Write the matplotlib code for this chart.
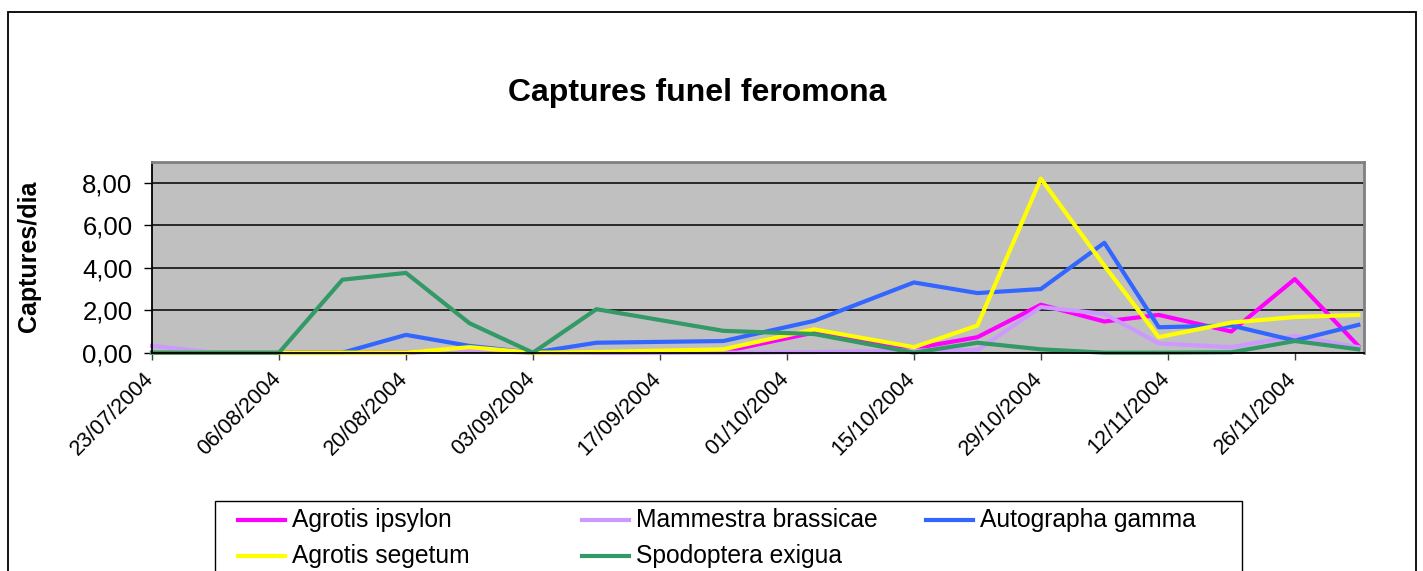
import matplotlib
matplotlib.use("Agg")
import matplotlib.pyplot as plt
import matplotlib.dates as mdates
import matplotlib.transforms as mtransforms
import pandas as pd
from matplotlib.patches import Rectangle
from matplotlib.lines import Line2D
from matplotlib.ticker import FuncFormatter

plt.rcParams["font.family"] = ["Liberation Sans", "DejaVu Sans"]

# ---- data ----
dates = ["23/07/2004", "30/07/2004", "06/08/2004", "13/08/2004", "20/08/2004",
         "27/08/2004", "03/09/2004", "10/09/2004", "24/09/2004", "04/10/2004",
         "15/10/2004", "22/10/2004", "29/10/2004", "05/11/2004", "11/11/2004",
         "19/11/2004", "26/11/2004", "03/12/2004"]
agrotis_ipsylon = [0, 0, 0, 0, 0, 0.20, 0, 0, 0.05, 0.95,
                   0.20, 0.73, 2.26, 1.47, 1.78, 1.00, 3.47, 0.32]
mammestra_brassicae = [0.32, 0, 0, 0, 0, 0.10, 0, 0, 0, 0.03,
                       0.10, 0.12, 2.15, 1.83, 0.44, 0.26, 0.79, 0.26]
autographa_gamma = [0, 0, 0, 0, 0.84, 0.32, 0, 0.47, 0.55, 1.50,
                    3.31, 2.81, 3.00, 5.18, 1.20, 1.28, 0.57, 1.31]
agrotis_segetum = [0, 0, 0, 0, 0, 0.26, 0, 0.03, 0.16, 1.10,
                   0.26, 1.28, 8.20, 4.10, 0.73, 1.42, 1.68, 1.78]
spodoptera_exigua = [0, 0, 0, 3.44, 3.76, 1.39, 0, 2.05, 1.03, 0.88,
                     0, 0.47, 0.16, 0, 0, 0.02, 0.55, 0.16]

labels = ["Agrotis ipsylon", "Mammestra brassicae", "Autographa gamma",
          "Agrotis segetum", "Spodoptera exigua"]
colors = ["#FF00FF", "#CC99FF", "#3366FF", "#FFFF00", "#339966"]
values = [agrotis_ipsylon, mammestra_brassicae, autographa_gamma,
          agrotis_segetum, spodoptera_exigua]

tick_dates = ["23/07/2004", "06/08/2004", "20/08/2004", "03/09/2004", "17/09/2004",
              "01/10/2004", "15/10/2004", "29/10/2004", "12/11/2004", "26/11/2004"]

title = "Captures funel feromona"
ylabel = "Captures/dia"

# ---- figure ----
W, H = 1423, 571
fig = plt.figure(figsize=(W / 100, H / 100), dpi=100)
fig.patch.set_facecolor("white")

# chart border
fig.add_artist(Rectangle((8 / W, -0.1), (1416 - 8) / W, 1 - 12 / H + 0.1,
                         transform=fig.transFigure, fill=False,
                         edgecolor="black", lw=1.3))

left, right, top, bottom = 152, 1363.6, 161.7, 352.7
ax = fig.add_axes([left / W, 1 - bottom / H, (right - left) / W, (bottom - top) / H])
ax.set_facecolor("#C0C0C0")

x = pd.to_datetime(dates, format="%d/%m/%Y")
for lab, vals, col in zip(labels, values, colors):
    ax.plot(x, vals, color=col, lw=3.0, clip_on=False, solid_joinstyle="round")

ax.set_ylim(0, 9)
ax.set_yticks([0, 2, 4, 6, 8])
ax.yaxis.set_major_formatter(FuncFormatter(lambda v, p: f"{v:.2f}".replace(".", ",")))
ax.yaxis.grid(True, color="black", lw=1.1)
ax.set_axisbelow(True)

x0 = pd.Timestamp("2004-07-23")
x1 = pd.Timestamp("2004-12-03") + pd.Timedelta(hours=14)
ax.set_xlim(x0, x1)
ax.set_xticks(pd.to_datetime(tick_dates, format="%d/%m/%Y"))
ax.xaxis.set_major_formatter(mdates.DateFormatter("%d/%m/%Y"))

ax.tick_params(axis="y", direction="out", length=6, width=1, pad=8,
               labelsize=18.5, color="black")
ax.tick_params(axis="x", direction="out", length=5, width=1, pad=6,
               labelsize=15.5, color="#404040")
shift = mtransforms.ScaledTranslation(-9 / 100, 0, fig.dpi_scale_trans)
for lbl in ax.get_xticklabels():
    lbl.set_rotation(45)
    lbl.set_ha("right")
    lbl.set_va("top")
    lbl.set_rotation_mode("anchor")
    lbl.set_transform(lbl.get_transform() + shift)

for s in ["top", "right"]:
    ax.spines[s].set_color("#808080")
    ax.spines[s].set_linewidth(2)
ax.spines["left"].set_color("black")
ax.spines["left"].set_linewidth(1.3)
ax.spines["bottom"].set_color("black")
ax.spines["bottom"].set_linewidth(1.3)

fig.text(697 / W, 1 - 93 / H, title, ha="center", va="center",
         fontsize=23, fontweight="bold")
fig.text(29 / W, 1 - 256 / H, ylabel, ha="center", va="center",
         rotation=90, fontsize=18, fontweight="bold")

# ---- legend (Excel-style equal columns) ----
fig.add_artist(Rectangle((215 / W, -0.1), (1242 - 215) / W, 1 - 501 / H + 0.1,
                         transform=fig.transFigure, facecolor="white",
                         edgecolor="black", lw=1.0))
col_x = [238, 582, 926]
row_y = [520, 556]
for i, (lab, col) in enumerate(zip(labels, colors)):
    r, c = divmod(i, 3)
    xs, yy = col_x[c], row_y[r]
    fig.add_artist(Line2D([xs / W, (xs + 47) / W], [1 - yy / H, 1 - yy / H],
                          transform=fig.transFigure, color=col, lw=3.0))
    fig.text((xs + 54) / W, 1 - yy / H, lab, ha="left", va="center", fontsize=17.7)

fig.savefig("out.png", dpi=100, facecolor="white")
